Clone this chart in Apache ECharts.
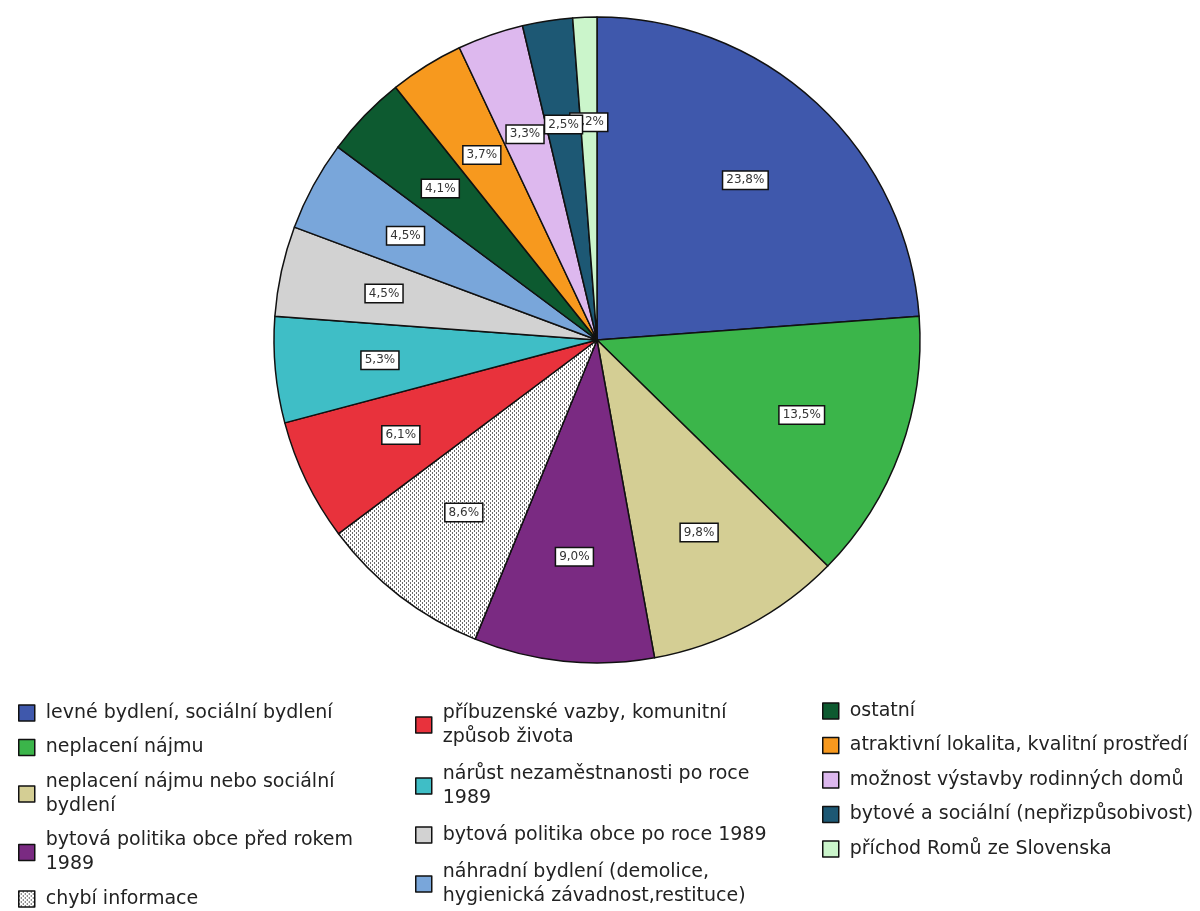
<!DOCTYPE html>
<html>
<head>
<meta charset="utf-8">
<script src="https://cdn.jsdelivr.net/npm/echarts@6/dist/echarts.min.js"></script>
<style>
html,body{margin:0;padding:0;background:#fff;}
#chart{width:1200px;height:911px;}
</style>
</head>
<body>
<div id="chart"></div>
<script>
const categories = [
  'levné bydlení, sociální bydlení',
  'neplacení nájmu',
  'neplacení nájmu nebo sociální\nbydlení',
  'bytová politika obce před rokem\n1989',
  'chybí informace',
  'příbuzenské vazby, komunitní\nzpůsob života',
  'nárůst nezaměstnanosti po roce\n1989',
  'bytová politika obce po roce 1989',
  'náhradní bydlení (demolice,\nhygienická závadnost,restituce)',
  'ostatní',
  'atraktivní lokalita, kvalitní prostředí',
  'možnost výstavby rodinných domů',
  'bytové a sociální (nepřizpůsobivost)',
  'příchod Romů ze Slovenska'
];
const values = [23.8, 13.5, 9.8, 9.0, 8.6, 6.1, 5.3, 4.5, 4.5, 4.1, 3.7, 3.3, 2.5, 1.2];
const colors = ['#3F58AC', '#3BB54A', '#D4CE94', '#7A2A82', 'PATTERN', '#E8323C', '#3FBEC6',
  '#D2D2D2', '#79A6DA', '#0D5A30', '#F7991E', '#DDB8EE', '#1D5874', '#CBF5CB'];
const legendColumns = [[0, 5], [5, 9], [9, 14]];

// dotted pattern for "chybí informace"
const tile = document.createElement('canvas');
tile.width = 4; tile.height = 4;
const tctx = tile.getContext('2d');
tctx.fillStyle = '#ffffff'; tctx.fillRect(0, 0, 4, 4);
tctx.fillStyle = '#6a6a6a';
tctx.fillRect(0, 0, 1, 2);
tctx.fillRect(2, 2, 1, 2);
const patternFill = { image: tile, repeat: 'repeat' };

const fmt = v => v.toFixed(1).replace('.', ',') + '%';

const pieData = categories.map((n, i) => ({
  name: n, value: values[i],
  itemStyle: { color: colors[i] === 'PATTERN' ? patternFill : colors[i] }
}));

const labelStyle = {
  show: true, position: 'inside',
  formatter: p => fmt(p.value),
  fontFamily: 'DejaVu Sans', fontSize: 12, color: '#333',
  backgroundColor: '#fff', borderColor: '#111', borderWidth: 1.5,
  padding: [3, 3, 2, 3]
};

function labelSeries(showFn, z) {
  return {
    type: 'pie', center: [597, 340], radius: [0, 430], startAngle: 90, clockwise: true,
    silent: true, z: z, avoidLabelOverlap: false, legendHoverLink: false,
    emphasis: { disabled: true },
    labelLine: { show: false },
    labelLayout: { hideOverlap: false },
    itemStyle: { color: 'rgba(0,0,0,0)', borderWidth: 0 },
    data: categories.map((n, i) => ({
      name: n, value: values[i],
      itemStyle: { color: 'rgba(0,0,0,0)' },
      label: Object.assign({}, labelStyle, { show: showFn(i) })
    }))
  };
}

const legendBase = {
  orient: 'vertical', icon: 'rect', itemWidth: 16, itemHeight: 16,
  selectedMode: false, height: 400, width: 420,
  itemStyle: { borderColor: '#111', borderWidth: 1.5 },
  textStyle: { fontFamily: 'DejaVu Sans', fontSize: 19, lineHeight: 24, color: '#222', padding: [0, 0, 0, 6] }
};

const chart = echarts.init(document.getElementById('chart'), null, { renderer: 'canvas' });
chart.setOption({
  backgroundColor: '#fff',
  animation: false,
  legend: [
    Object.assign({}, legendBase, { left: 13, top: 696, itemGap: 10.5, data: categories.slice(legendColumns[0][0], legendColumns[0][1]) }),
    Object.assign({}, legendBase, { left: 410, top: 696, itemGap: 13, data: categories.slice(legendColumns[1][0], legendColumns[1][1]) }),
    Object.assign({}, legendBase, { left: 817, top: 694, itemGap: 10.5, data: categories.slice(legendColumns[2][0], legendColumns[2][1]) })
  ],
  series: [
    {
      type: 'pie', center: [597, 340], radius: [0, 323], startAngle: 90, clockwise: true,
      silent: true, z: 2,
      label: { show: false }, labelLine: { show: false },
      itemStyle: { borderColor: '#111', borderWidth: 1.5 },
      data: pieData
    },
    labelSeries(i => i === values.length - 1, 3),
    labelSeries(i => i !== values.length - 1, 4)
  ]
});
</script>
</body>
</html>
